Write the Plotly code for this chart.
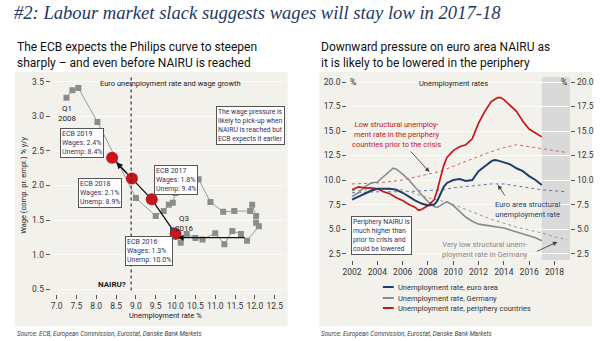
import plotly.graph_objects as go

W, H = 600, 341
def PX(x): return x / W
def PY(y): return 1 - y / H

# ---------------- Left panel data ----------------
hist_unemp = [7.25, 7.40, 7.55, 8.03, 9.00, 9.50, 9.70, 9.83, 9.93, 10.00, 10.10, 10.23, 10.40, 10.58,
              10.88, 11.20, 11.48, 11.88, 11.93, 12.03, 12.03, 12.10, 11.80, 11.65, 11.43, 11.23, 11.00,
              10.68, 10.50, 10.28, 10.13, 9.95]
hist_wages = [3.27, 3.38, 3.41, 2.92, 1.82, 1.56, 1.63, 1.72, 1.75, 1.89, 2.05, 2.14, 2.17, 2.09,
              1.76, 1.62, 1.63, 1.63, 1.72, 1.56, 1.46, 1.41, 1.20, 1.30, 1.34, 1.15, 1.31,
              1.22, 1.24, 1.30, 1.17, 1.34]
ecb_year = [2016, 2017, 2018, 2019]
ecb_unemp = [10.0, 9.4, 8.9, 8.4]
ecb_wages = [1.3, 1.8, 2.1, 2.4]
nairu = 8.88
flat_path_unemp = [11.78, 10.05]
flat_path_wage = [1.245, 1.245]
left_xticks = [7.0, 7.5, 8.0, 8.5, 9.0, 9.5, 10.0, 10.5, 11.0, 11.5, 12.0, 12.5]
left_yticks = [0.5, 1.0, 1.5, 2.0, 2.5, 3.0, 3.5]

# ---------------- Right panel data ----------------
ea_years = [2002.0, 2002.5, 2003.0, 2003.5, 2004.0, 2004.5, 2005.0, 2005.5, 2006.0, 2006.5, 2007.0,
            2007.5, 2008.0, 2008.5, 2008.75, 2009.0, 2009.25, 2009.5, 2010.0, 2010.5, 2011.0, 2011.5,
            2011.75, 2012.0, 2012.5, 2013.0, 2013.25, 2013.5, 2014.0, 2014.5, 2015.0, 2015.5, 2016.0,
            2016.5, 2017.0]
ea_rate = [8.0, 8.3, 8.6, 8.9, 9.1, 9.1, 9.1, 9.0, 8.7, 8.3, 7.9,
           7.6, 7.4, 7.5, 7.9, 8.6, 9.3, 9.7, 10.0, 10.1, 9.9, 10.0,
           10.4, 10.9, 11.4, 11.9, 12.05, 12.0, 11.8, 11.6, 11.2, 10.9, 10.4,
           10.0, 9.5]
de_years = [2002.0, 2002.5, 2003.0, 2003.5, 2004.0, 2004.5, 2005.0, 2005.25, 2005.5, 2006.0, 2006.5,
            2007.0, 2007.5, 2008.0, 2008.5, 2008.75, 2009.25, 2009.5, 2010.0, 2010.5, 2011.0, 2011.5,
            2012.0, 2012.5, 2013.0, 2013.5, 2014.0, 2014.5, 2015.0, 2015.5, 2016.0, 2016.5, 2017.0]
de_rate = [8.3, 8.7, 9.3, 9.7, 9.8, 10.4, 10.9, 11.2, 11.1, 10.6, 10.0,
           9.2, 8.5, 7.8, 7.3, 7.2, 7.6, 7.8, 7.4, 6.8, 6.2, 5.8,
           5.5, 5.4, 5.3, 5.2, 5.1, 4.9, 4.7, 4.5, 4.3, 4.1, 3.8]
pe_years = [2002.0, 2002.5, 2003.0, 2003.5, 2004.0, 2004.5, 2005.0, 2005.5, 2006.0, 2006.5, 2007.0,
            2007.25, 2007.5, 2008.0, 2008.5, 2008.75, 2009.0, 2009.25, 2009.5, 2010.0, 2010.5, 2011.0,
            2011.5, 2012.0, 2012.5, 2013.0, 2013.5, 2013.75, 2014.0, 2014.5, 2015.0, 2015.5, 2016.0,
            2016.5, 2017.0]
pe_rate = [9.0, 9.3, 9.2, 9.2, 9.1, 8.8, 8.6, 8.2, 7.9, 7.5, 7.2,
           6.9, 7.0, 7.4, 8.0, 9.0, 10.3, 11.5, 12.3, 13.0, 13.4, 13.6,
           14.2, 15.8, 17.0, 18.0, 18.4, 18.4, 18.2, 17.6, 17.0, 16.0, 15.2,
           14.8, 14.4]
nairu_years = [2002, 2004, 2006, 2008, 2009, 2010, 2011, 2012, 2013, 2014, 2015, 2016, 2017, 2018, 2019]
ea_nairu = [8.7, 8.8, 8.8, 8.9, 9.0, 9.2, 9.35, 9.5, 9.6, 9.6, 9.4, 9.2, 9.0, 8.9, 8.8]
de_nairu = [8.9, 9.1, 9.0, 8.2, 7.9, 7.5, 7.0, 6.5, 6.0, 5.6, 5.2, 4.9, 4.6, 4.2, 3.9]
pe_nairu = [9.6, 9.7, 10.0, 10.6, 10.9, 11.4, 11.9, 12.4, 12.9, 13.3, 13.6, 13.4, 13.2, 13.0, 12.8]
right_xticks = [2002, 2004, 2006, 2008, 2010, 2012, 2014, 2016, 2018]
right_yticks = [2.5, 5.0, 7.5, 10.0, 12.5, 15.0, 17.5, 20.0]
forecast_start = 2017
legend_labels = ["Unemployment rate, euro area", "Unemployment rate, Germany",
                 "Unemployment rate, periphery countries"]

NAVY = "#1d3f6e"
RED = "#c4161c"
GRAY = "#8a8a8a"
BG = "#f3f1ec"
TXT = "#222222"
BOXTXT = "#33305e"
FONT = "Roboto"

fig = go.Figure()

# ---- left traces ----
fig.add_trace(go.Scatter(x=hist_unemp, y=hist_wages, mode="lines+markers",
                         line=dict(color="#9a9a9a", width=1),
                         marker=dict(symbol="square", size=6, color="#8c8c8c"),
                         xaxis="x", yaxis="y", showlegend=False, hoverinfo="skip"))
fig.add_trace(go.Scatter(x=ecb_unemp, y=ecb_wages, mode="lines",
                         line=dict(color="#111111", width=1.3),
                         xaxis="x", yaxis="y", showlegend=False, hoverinfo="skip"))
fig.add_trace(go.Scatter(x=hist_unemp[-1:], y=hist_wages[-1:], mode="markers",
                         marker=dict(symbol="square", size=7, color=NAVY),
                         xaxis="x", yaxis="y", showlegend=False, hoverinfo="skip"))
fig.add_trace(go.Scatter(x=ecb_unemp, y=ecb_wages, mode="markers",
                         marker=dict(size=12, color=RED),
                         xaxis="x", yaxis="y", showlegend=False, hoverinfo="skip"))

# ---- right traces ----
for yrs, vals, col in [(nairu_years, pe_nairu, "#d0626a"), (nairu_years, ea_nairu, "#5a78a0"),
                       (nairu_years, de_nairu, "#9a9a9a")]:
    fig.add_trace(go.Scatter(x=yrs, y=vals, mode="lines", line=dict(color=col, width=1, dash="dot"),
                             xaxis="x2", yaxis="y2", showlegend=False, hoverinfo="skip"))
for yrs, vals, col, wd in [(de_years, de_rate, GRAY, 1.6), (pe_years, pe_rate, RED, 1.7),
                           (ea_years, ea_rate, NAVY, 2.0)]:
    fig.add_trace(go.Scatter(x=yrs, y=vals, mode="lines", line=dict(color=col, width=wd),
                             xaxis="x2", yaxis="y2", showlegend=False, hoverinfo="skip"))
# invisible trace to carry right-hand axis
fig.add_trace(go.Scatter(x=[right_xticks[0]], y=[right_yticks[0]], mode="markers",
                         marker=dict(opacity=0), xaxis="x2", yaxis="y3",
                         showlegend=False, hoverinfo="skip"))

tickfont = dict(family=FONT, size=8.5, color="#333")
common_ax = dict(showline=False, zeroline=False, ticks="outside", ticklen=4, tickwidth=1,
                 tickcolor="#555", tickfont=tickfont)

yr_r = [1.84, 20.51]
fig.update_layout(
    width=W, height=H, margin=dict(l=0, r=0, t=0, b=0),
    paper_bgcolor="white", plot_bgcolor="rgba(0,0,0,0)",
    xaxis=dict(domain=[PX(46), PX(282)], range=[6.85, 12.75], tickvals=left_xticks,
               ticktext=[f"{v:.1f}" for v in left_xticks], showgrid=False, anchor="y", **common_ax),
    yaxis=dict(domain=[PY(294), PY(77)], range=[0.43, 3.57], tickvals=left_yticks,
               ticktext=[f"{v:.1f}" for v in left_yticks], showgrid=True, gridcolor="#fbfaf7",
               gridwidth=1, anchor="x", **common_ax),
    xaxis2=dict(domain=[PX(345), PX(570)], range=[2001.61, 2019.25], tickvals=right_xticks,
                ticktext=[str(v) for v in right_xticks], showgrid=False, anchor="y2", **common_ax),
    yaxis2=dict(domain=[PY(260), PY(77)], range=yr_r, tickvals=right_yticks,
                ticktext=[f"{v:.1f}" for v in right_yticks], showgrid=True, gridcolor="#fbfaf7",
                gridwidth=1, anchor="x2", **common_ax),
    yaxis3=dict(domain=[PY(260), PY(77)], range=yr_r, tickvals=right_yticks,
                ticktext=[f"{v:.1f}" for v in right_yticks], showgrid=False, anchor="x2",
                overlaying="y2", side="right", **common_ax),
)

shapes = [
    dict(type="rect", xref="paper", yref="paper", x0=PX(10), x1=PX(285), y0=PY(326), y1=PY(72),
         fillcolor=BG, line=dict(width=0), layer="below"),
    dict(type="rect", xref="paper", yref="paper", x0=PX(317), x1=PX(592), y0=PY(326), y1=PY(72),
         fillcolor=BG, line=dict(width=0), layer="below"),
    dict(type="rect", xref="x2", yref="y2", x0=forecast_start, x1=2019.25, y0=yr_r[0], y1=yr_r[1],
         fillcolor="#d9d9d9", line=dict(width=0), layer="below"),
    dict(type="line", xref="x", yref="y", x0=nairu, x1=nairu, y0=0.48, y1=3.6,
         line=dict(color="#333", width=1.2, dash="dot")),
]
leg_cols = [NAVY, GRAY, RED]
leg_y = [287, 298, 308]
for c, yy in zip(leg_cols, leg_y):
    shapes.append(dict(type="line", xref="paper", yref="paper", x0=PX(381), x1=PX(392),
                       y0=PY(yy), y1=PY(yy), line=dict(color=c, width=2)))
fig.update_layout(shapes=shapes)

ann = []
def txt(x, y, s, size=8, color=TXT, xanchor="left", family=FONT, **kw):
    ann.append(dict(x=PX(x), y=PY(y), xref="paper", yref="paper", text=s, showarrow=False,
                    xanchor=xanchor, yanchor="middle", font=dict(family=family, size=size, color=color), **kw))

txt(7, 13, "<i>#2: Labour market slack suggests wages will stay low in 2017-18</i>", size=18.6,
    color="#1f3864", family="Liberation Serif")
txt(10, 47, "The ECB expects the Philips curve to steepen", size=12, color="#111")
txt(10, 63, "sharply – and even before NAIRU is reached", size=12, color="#111")
txt(317, 47, "Downward pressure on euro area NAIRU as", size=12, color="#111")
txt(317, 63, "it is likely to be lowered in the periphery", size=12, color="#111")

# left panel texts
txt(167, 83, "Euro unemployment rate and wage growth", size=7.5, xanchor="center")
txt(63, 114, "Q1<br>2008", size=8, xanchor="center")
txt(181, 223, "Q3<br>2016", size=8, xanchor="center")
txt(108, 284, "<b>NAIRU?</b>", size=8, xanchor="center")
txt(18, 185, "Wage (comp. pr. empl.) % y/y", size=7.5, xanchor="center", textangle=-90)
txt(162, 315, "Unemployment rate %", size=7.5, xanchor="center")

box_pos = {2019: (55, 143), 2018: (74, 193), 2017: (150, 180), 2016: (121, 251)}
for yr, u, w in zip(ecb_year, ecb_unemp, ecb_wages):
    bx, by = box_pos[yr]
    txt(bx, by, f"ECB {yr}<br>Wages: {w:.1f}%<br>Unemp: {u:.1f}%", size=7, color=BOXTXT,
        align="left", bgcolor="white", bordercolor="#555", borderwidth=1, borderpad=1)
txt(213, 125, "The wage pressure is<br>likely to pick-up when<br>NAIRU is reached but<br>ECB expects it earlier",
    size=6.8, color=BOXTXT, align="left", bgcolor="white", bordercolor="#555", borderwidth=1, borderpad=1)

# arrows on left
ann.append(dict(x=ecb_unemp[3], y=ecb_wages[3], ax=ecb_unemp[2], ay=ecb_wages[2], xref="x", yref="y",
                axref="x", ayref="y", text="", showarrow=True, arrowhead=2, arrowsize=1,
                arrowwidth=1.3, arrowcolor="#111", standoff=6, startstandoff=6))
ann.append(dict(x=flat_path_unemp[1], y=flat_path_wage[1], ax=flat_path_unemp[0], ay=flat_path_wage[0],
                xref="x", yref="y", axref="x", ayref="y", text="", showarrow=True, arrowhead=2,
                arrowsize=1, arrowwidth=1.2, arrowcolor="#111"))

# right panel texts
txt(351, 82, "%", size=8.5, xanchor="center")
txt(564, 82, "%", size=8.5, xanchor="center")
txt(452, 83, "Unemployment rates", size=7.5, xanchor="center")
txt(395, 134, "Low structural unemploy-<br>ment rate in the periphery<br>countries prior to the crisis",
    size=7.5, color=RED, xanchor="center")
txt(527, 209, "Euro area structural<br>unemployment rate", size=7.5, color=NAVY, xanchor="center")
txt(484, 249, "Very low structural unem-<br>ployment rate in Germany", size=7.5, color="#888",
    xanchor="center")
txt(349, 235.5, "Periphery NAIRU is<br>much higher than<br>prior to crisis and<br>could be lowered",
    size=6.8, color=BOXTXT, align="left", bgcolor="white", bordercolor="#555", borderwidth=1, borderpad=1)

for (hx, hy, tx, ty) in [(428, 172, 408, 150), (497, 185, 505, 197), (557, 242, 535, 252)]:
    ann.append(dict(x=PX(hx), y=PY(hy), xref="paper", yref="paper", ax=tx - hx, ay=ty - hy,
                    text="", showarrow=True, arrowhead=2, arrowsize=1, arrowwidth=0.9,
                    arrowcolor="#444"))

for lab, yy in zip(legend_labels, leg_y):
    txt(394, yy, lab, size=7.5, color="#333")

txt(10, 334, "<i>Source: ECB, European Commission, Eurostat, Danske Bank Markets</i>", size=6.3, color="#444")
txt(317, 334, "<i>Source: European Commission, Eurostat, Danske Bank Markets</i>", size=6.3, color="#444")

fig.update_layout(annotations=ann)
fig.write_html("out.html")
